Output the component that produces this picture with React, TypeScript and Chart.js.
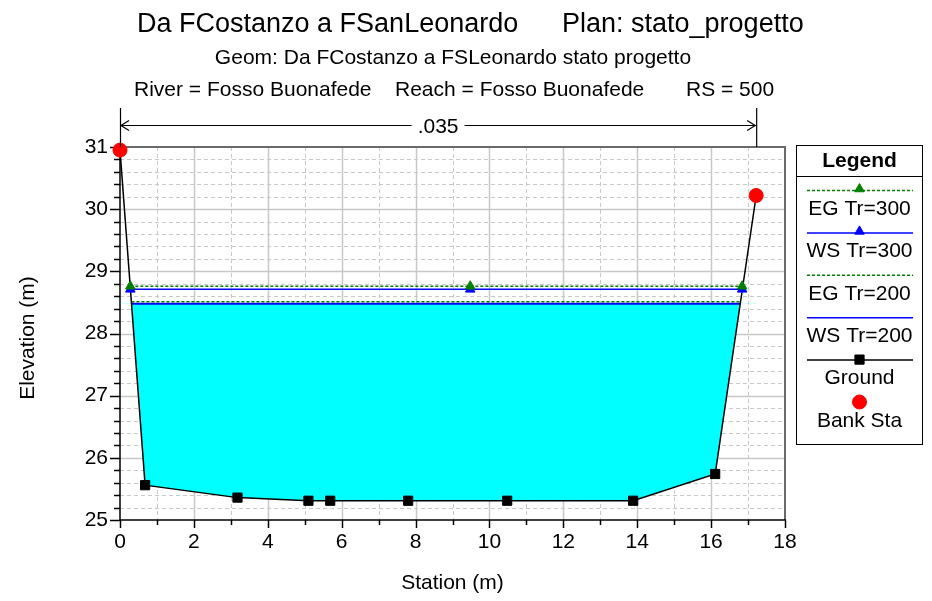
import React, { useEffect, useRef } from "react";
import { Chart, registerables } from "chart.js";

Chart.register(...registerables);

// ---------- data ----------
const groundStation = [0, 0.68, 3.18, 5.1, 5.69, 7.8, 10.48, 13.89, 16.11, 17.22];
const groundElev = [30.95, 25.56, 25.36, 25.31, 25.31, 25.31, 25.31, 25.31, 25.74, 30.22];
const bankStation = [0, 17.22];
const bankElev = [30.95, 30.22];
const tr300Station = [0.28, 9.48, 16.84];
const eg300Elev = 28.76;
const ws300Elev = 28.71;
const tr200Station = [0.31, 16.79];
const eg200Elev = 28.51;
const ws200Elev = 28.48;
const manningN = ".035";

const seriesNames = ["EG Tr=300", "WS Tr=300", "EG Tr=200", "WS Tr=200", "Ground", "Bank Sta"];
const titleLeft = "Da FCostanzo a FSanLeonardo";
const titleRight = "Plan: stato_progetto";
const subtitle = "Geom: Da FCostanzo a FSLeonardo stato progetto";
const infoParts = ["River = Fosso Buonafede", "Reach = Fosso Buonafede", "RS = 500"];
const xTitle = "Station (m)";
const yTitle = "Elevation (m)";
const xMin = 0, xMax = 18, xStep = 2;
const yMin = 25, yMax = 31, yStep = 1;

const FONT = '"Liberation Sans", Arial, Helvetica, sans-serif';
const GREEN = "#008000";
const BLUE = "#0000ff";

function marker(ctx: CanvasRenderingContext2D, style: string, x: number, y: number, r: number, color: string) {
  ctx.save();
  ctx.fillStyle = color;
  ctx.strokeStyle = color;
  ctx.lineWidth = 1;
  ctx.setLineDash([]);
  ctx.beginPath();
  if (style === "triangle") {
    let rad = 0;
    ctx.moveTo(x + Math.sin(rad) * r, y - Math.cos(rad) * r);
    rad += (2 * Math.PI) / 3;
    ctx.lineTo(x + Math.sin(rad) * r, y - Math.cos(rad) * r);
    rad += (2 * Math.PI) / 3;
    ctx.lineTo(x + Math.sin(rad) * r, y - Math.cos(rad) * r);
    ctx.closePath();
  } else if (style === "rect") {
    const s = r * Math.SQRT1_2;
    ctx.rect(x - s, y - s, 2 * s, 2 * s);
  } else {
    ctx.arc(x, y, r, 0, Math.PI * 2);
  }
  ctx.fill();
  ctx.stroke();
  ctx.restore();
}

const decorPlugin = {
  id: "decor",
  beforeDraw(chart: any) {
    const { ctx, width, height, chartArea: a } = chart;
    const xs = chart.scales.x;
    const ys = chart.scales.y;
    ctx.save();
    ctx.fillStyle = "#fff";
    ctx.fillRect(0, 0, width, height);

    // horizontal grid every 0.2
    const nY = Math.round((yMax - yMin) / 0.2);
    for (let i = 1; i < nY; i++) {
      const py = Math.round(ys.getPixelForValue(yMin + i * 0.2)) + 0.5;
      const major = i % 5 === 0;
      ctx.beginPath();
      ctx.setLineDash(major ? [] : [4, 3]);
      ctx.strokeStyle = "#c8c8c8";
      ctx.lineWidth = major ? 1.5 : 1;
      ctx.moveTo(a.left, py);
      ctx.lineTo(a.right, py);
      ctx.stroke();
    }
    // vertical grid every 1
    for (let v = xMin + 1; v < xMax; v++) {
      const px = Math.round(xs.getPixelForValue(v)) + 0.5;
      const major = v % 2 === 0;
      ctx.beginPath();
      ctx.setLineDash(major ? [] : [4, 3]);
      ctx.strokeStyle = "#c8c8c8";
      ctx.lineWidth = major ? 1.5 : 1;
      ctx.moveTo(px, a.top);
      ctx.lineTo(px, a.bottom);
      ctx.stroke();
    }
    ctx.setLineDash([]);
    // frame top/right
    ctx.strokeStyle = "#6a6a6a";
    ctx.lineWidth = 2;
    ctx.beginPath();
    ctx.moveTo(a.left, a.top);
    ctx.lineTo(a.right, a.top);
    ctx.lineTo(a.right, a.bottom);
    ctx.stroke();
    // axes
    ctx.strokeStyle = "#000";
    ctx.lineWidth = 1.5;
    ctx.beginPath();
    ctx.moveTo(a.left, a.top - 1);
    ctx.lineTo(a.left, a.bottom);
    ctx.lineTo(a.right + 1, a.bottom);
    ctx.stroke();
    // y ticks
    ctx.lineWidth = 1.5;
    for (let i = 0; i <= nY; i++) {
      const py = Math.round(ys.getPixelForValue(yMin + i * 0.2)) + 0.5;
      const len = i % 5 === 0 ? 10 : 6;
      ctx.beginPath();
      ctx.moveTo(a.left - len, py);
      ctx.lineTo(a.left, py);
      ctx.stroke();
    }
    for (let v = xMin; v <= xMax; v++) {
      const px = Math.round(xs.getPixelForValue(v)) + 0.5;
      const len = v % 2 === 0 ? 8 : 5;
      ctx.beginPath();
      ctx.moveTo(px, a.bottom);
      ctx.lineTo(px, a.bottom + len);
      ctx.stroke();
    }
    ctx.restore();
  },
  afterDraw(chart: any) {
    const { ctx, chartArea: a } = chart;
    const xs = chart.scales.x;
    ctx.save();
    ctx.fillStyle = "#000";
    ctx.strokeStyle = "#000";
    // titles
    ctx.textBaseline = "alphabetic";
    ctx.textAlign = "left";
    ctx.font = `27px ${FONT}`;
    ctx.fillText(titleLeft, 137, 32);
    ctx.fillText(titleRight, 562, 32);
    ctx.font = `21px ${FONT}`;
    ctx.textAlign = "center";
    ctx.fillText(subtitle, 453, 64);
    ctx.textAlign = "left";
    ctx.fillText(infoParts[0], 134, 96);
    ctx.fillText(infoParts[1], 395, 96);
    ctx.fillText(infoParts[2], 686, 96);

    // manning n annotation
    const b0 = xs.getPixelForValue(bankStation[0]);
    const b1 = xs.getPixelForValue(bankStation[1]);
    const ay = 125.5;
    ctx.lineWidth = 1.2;
    ctx.beginPath();
    ctx.moveTo(b0 + 0.5, 108);
    ctx.lineTo(b0 + 0.5, a.top);
    ctx.moveTo(b1 + 0.5, 108);
    ctx.lineTo(b1 + 0.5, a.top);
    ctx.stroke();
    const mid = (b0 + b1) / 2;
    ctx.font = `21px ${FONT}`;
    const tw = ctx.measureText(manningN).width;
    ctx.beginPath();
    ctx.moveTo(b0, ay);
    ctx.lineTo(mid - tw / 2 - 6, ay);
    ctx.moveTo(mid + tw / 2 + 6, ay);
    ctx.lineTo(b1, ay);
    ctx.moveTo(b0 + 9, ay - 5);
    ctx.lineTo(b0 + 1, ay);
    ctx.lineTo(b0 + 9, ay + 5);
    ctx.moveTo(b1 - 9, ay - 5);
    ctx.lineTo(b1 - 1, ay);
    ctx.lineTo(b1 - 9, ay + 5);
    ctx.stroke();
    ctx.textAlign = "center";
    ctx.fillText(manningN, mid, 133);

    // axis titles
    ctx.textBaseline = "middle";
    ctx.fillText(xTitle, (a.left + a.right) / 2, 583);
    ctx.save();
    ctx.translate(28, 338);
    ctx.rotate(-Math.PI / 2);
    ctx.fillText(yTitle, 0, 0);
    ctx.restore();

    // legend
    const L = 796.5, R = 922.5, T = 145.5, B = 444.5;
    ctx.lineWidth = 1;
    ctx.strokeStyle = "#000";
    ctx.strokeRect(L, T, R - L, B - T);
    ctx.beginPath();
    ctx.moveTo(L, 176.5);
    ctx.lineTo(R, 176.5);
    ctx.stroke();
    const cx = (L + R) / 2;
    ctx.font = `bold 21px ${FONT}`;
    ctx.textAlign = "center";
    ctx.fillText("Legend", cx, 161);
    ctx.font = `21px ${FONT}`;
    const step = 42.4;
    const styles = [
      { color: GREEN, dash: [3, 2], mk: "triangle" },
      { color: BLUE, dash: [], mk: "triangle" },
      { color: GREEN, dash: [3, 2], mk: "" },
      { color: BLUE, dash: [], mk: "" },
      { color: "#000", dash: [], mk: "rect" },
      { color: "#ff0000", dash: null, mk: "circle" },
    ];
    seriesNames.forEach((name, i) => {
      const ly = 190 + i * step;
      const st = styles[i];
      if (st.dash) {
        ctx.save();
        ctx.strokeStyle = st.color;
        ctx.lineWidth = 1.5;
        ctx.setLineDash(st.dash);
        ctx.beginPath();
        ctx.moveTo(807, ly + 0.5);
        ctx.lineTo(913, ly + 0.5);
        ctx.stroke();
        ctx.restore();
      }
      if (st.mk === "triangle") marker(ctx, "triangle", cx, ly - 1, 5.5, st.color);
      if (st.mk === "rect") marker(ctx, "rect", cx, ly, 6.5, st.color);
      if (st.mk === "circle") marker(ctx, "circle", cx, ly, 7, st.color);
      ctx.fillStyle = "#000";
      ctx.fillText(name, cx, 209 + i * step);
    });
    ctx.restore();
  },
};

export default function App() {
  const ref = useRef<HTMLCanvasElement | null>(null);
  useEffect(() => {
    document.body.style.margin = "0";
    const canvas = ref.current;
    if (!canvas) return;
    const pts = (xsArr: number[], ysArr: number[]) => xsArr.map((x, i) => ({ x, y: ysArr[i] }));
    const flat = (xsArr: number[], v: number) => xsArr.map((x) => ({ x, y: v }));
    const chart = new Chart(canvas, {
      type: "scatter",
      data: {
        datasets: [
          {
            label: seriesNames[0],
            data: flat(tr300Station, eg300Elev),
            showLine: true,
            borderColor: GREEN,
            borderWidth: 1.5,
            borderDash: [3, 2],
            pointStyle: "triangle",
            pointRadius: 5.5,
            pointBackgroundColor: GREEN,
            pointBorderColor: GREEN,
            pointBorderWidth: 1,
            order: 1,
            clip: false,
          },
          {
            label: seriesNames[1],
            data: flat(tr300Station, ws300Elev),
            showLine: true,
            borderColor: BLUE,
            borderWidth: 1.5,
            pointStyle: "triangle",
            pointRadius: 5.5,
            pointBackgroundColor: BLUE,
            pointBorderColor: BLUE,
            pointBorderWidth: 1,
            order: 2,
            clip: false,
          },
          {
            label: seriesNames[2],
            data: flat(tr200Station, eg200Elev),
            showLine: true,
            borderColor: GREEN,
            borderWidth: 1.5,
            borderDash: [3, 2],
            pointRadius: 0,
            order: 4,
          },
          {
            label: seriesNames[3],
            data: flat(tr200Station, ws200Elev),
            showLine: true,
            borderColor: BLUE,
            borderWidth: 2,
            pointRadius: 0,
            order: 5,
          },
          {
            label: seriesNames[4],
            data: pts(groundStation, groundElev),
            showLine: true,
            borderColor: "#000",
            borderWidth: 1.5,
            pointStyle: "rect",
            pointRadius: 6.5,
            pointBackgroundColor: "#000",
            pointBorderColor: "#000",
            pointBorderWidth: 1,
            fill: { target: { value: ws200Elev }, above: "rgba(0,0,0,0)", below: "#00ffff" },
            order: 3,
            clip: false,
          },
          {
            label: seriesNames[5],
            data: pts(bankStation, bankElev),
            showLine: false,
            pointStyle: "circle",
            pointRadius: 7,
            pointBackgroundColor: "#ff0000",
            pointBorderColor: "#ff0000",
            pointBorderWidth: 1,
            order: 0,
            clip: false,
          },
        ] as any,
      },
      options: {
        responsive: false,
        animation: false,
        events: [],
        layout: { padding: { top: 147, right: 147, left: 0, bottom: 0 } },
        elements: { line: { tension: 0 } },
        plugins: {
          legend: { display: false },
          title: { display: false },
          tooltip: { enabled: false },
          filler: { drawTime: "beforeDatasetsDraw" },
        } as any,
        scales: {
          x: {
            type: "linear",
            min: xMin,
            max: xMax,
            ticks: { stepSize: xStep, font: { family: FONT, size: 21 }, color: "#000", padding: 10, maxRotation: 0, autoSkip: false },
            grid: { display: false, drawTicks: false },
            border: { display: false },
            afterFit: (s: any) => {
              s.height = 81;
            },
          },
          y: {
            type: "linear",
            min: yMin,
            max: yMax,
            ticks: { stepSize: yStep, font: { family: FONT, size: 21 }, color: "#000", padding: 12 },
            grid: { display: false, drawTicks: false },
            border: { display: false },
            afterFit: (s: any) => {
              s.width = 120;
            },
          },
        } as any,
      },
      plugins: [decorPlugin],
    });
    return () => chart.destroy();
  }, []);
  return <canvas ref={ref} width={932} height={601} style={{ display: "block", width: 932, height: 601 }} />;
}
